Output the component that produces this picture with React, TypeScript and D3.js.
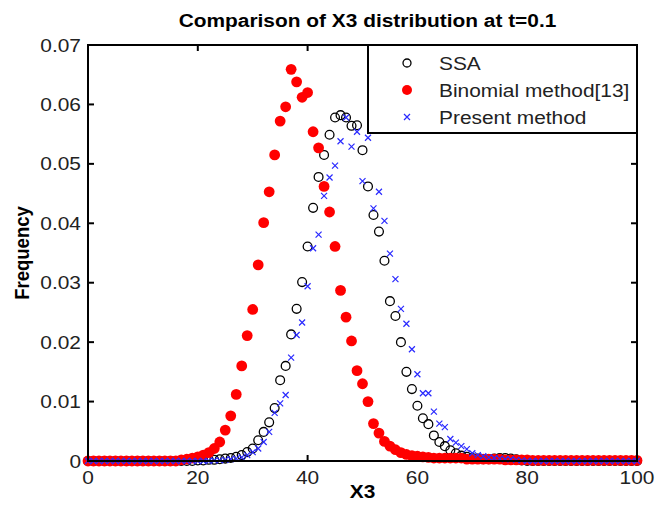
import React from "react";
import * as d3 from "d3";

const xs: number[] = d3.range(0, 101);

const ssa: number[] = [
  0, 0, 0, 0, 0, 0, 0, 0, 0, 0,
  0, 0, 0, 0, 0, 0, 0, 0, 0, 0,
  0.0001, 0.0001, 0.0002, 0.0002, 0.0003, 0.0004, 0.0005, 0.0007, 0.001, 0.0015,
  0.0021, 0.0035, 0.0049, 0.0065, 0.0089, 0.0136, 0.016, 0.0213, 0.0256, 0.0301,
  0.0361, 0.0426, 0.0478, 0.0515, 0.0549, 0.0578, 0.0582, 0.0578, 0.0564, 0.0565,
  0.0523, 0.0462, 0.0414, 0.0386, 0.0337, 0.0269, 0.0244, 0.02, 0.015, 0.0121,
  0.0093, 0.0072, 0.0062, 0.0043, 0.0032, 0.0025, 0.0018, 0.0013, 0.0009, 0.0007,
  0.0005, 0.0004, 0.0003, 0.0003, 0.0004, 0.0005, 0.0005, 0.0004, 0.0003, 0.0001,
  0, 0, 0, 0, 0, 0, 0, 0, 0, 0,
  0, 0, 0, 0, 0, 0, 0, 0, 0, 0,
  0,
];

const binomial: number[] = [
  0, 0, 0, 0, 0, 0, 0, 0, 0, 0,
  0, 0, 0, 0, 0, 0, 0, 0.0002, 0.0003, 0.0005,
  0.0007, 0.001, 0.0014, 0.0021, 0.0032, 0.0052, 0.0076, 0.0112, 0.016, 0.0211,
  0.0255, 0.033, 0.0401, 0.0453, 0.0515, 0.0572, 0.0596, 0.0659, 0.0638, 0.0612,
  0.062, 0.0554, 0.0527, 0.0462, 0.0419, 0.0361, 0.0287, 0.0242, 0.0202, 0.0152,
  0.013, 0.01, 0.0063, 0.0047, 0.0033, 0.0025, 0.0019, 0.0014, 0.0011, 0.0009,
  0.0008, 0.0007, 0.0006, 0.0005, 0.0005, 0.0005, 0.0005, 0.0005, 0.0005, 0.0003,
  0.0003, 0.0003, 0.0003, 0.0003, 0.0003, 0.0003, 0.0002, 0.0002, 0.0002, 0.0002,
  0.0002, 0.0001, 0.0001, 0.0001, 0.0001, 0.0001, 0.0001, 0.0001, 0.0001, 0.0001,
  0.0001, 0.0001, 0.0001, 0.0001, 0.0001, 0.0001, 0.0001, 0.0001, 0.0001, 0.0001,
  0.0001,
];

const present: number[] = [
  0, 0, 0, 0, 0, 0, 0, 0, 0, 0,
  0, 0, 0, 0, 0, 0, 0, 0, 0, 0,
  0, 0, 0, 0.0001, 0.0001, 0.0002, 0.0003, 0.0004, 0.0006, 0.001,
  0.0015, 0.0021, 0.0032, 0.0049, 0.0081, 0.0097, 0.0111, 0.0174, 0.0212, 0.0233,
  0.0294, 0.0358, 0.0381, 0.0446, 0.0477, 0.0497, 0.0538, 0.0578, 0.0529, 0.0554,
  0.0471, 0.0544, 0.0425, 0.0453, 0.0404, 0.0349, 0.0306, 0.0256, 0.0231, 0.0188,
  0.0146, 0.0114, 0.0114, 0.0083, 0.0063, 0.0057, 0.0037, 0.0031, 0.0025, 0.002,
  0.0013, 0.001, 0.0008, 0.0006, 0.0005, 0.0004, 0.0003, 0.0003, 0.0002, 0.0001,
  0, 0, 0, 0, 0, 0, 0, 0, 0, 0,
  0, 0, 0, 0, 0, 0, 0, 0, 0, 0,
  0,
];

const xTicks: number[] = [0, 20, 40, 60, 80, 100];
const xTickLabels: string[] = ["0", "20", "40", "60", "80", "100"];
const yTicks: number[] = [0, 0.01, 0.02, 0.03, 0.04, 0.05, 0.06, 0.07];
const yTickLabels: string[] = ["0", "0.01", "0.02", "0.03", "0.04", "0.05", "0.06", "0.07"];
const legendLabels: string[] = ["SSA", "Binomial method[13]", "Present method"];

const TITLE = "Comparison of X3 distribution at t=0.1";
const XLABEL = "X3";
const YLABEL = "Frequency";

const W = 655;
const H = 510;
const L = 88, R = 637, T = 45, B = 461;
const FONT = "'Liberation Sans', Arial, sans-serif";
const FS = 18.5;
const SX = 1.13;

export default function App() {
  const x = d3.scaleLinear().domain([0, 100]).range([L, R]);
  const y = d3.scaleLinear().domain([0, 0.07]).range([B, T]);
  const tick = 6;

  const cross = (cx: number, cy: number, s: number) =>
    `M${cx - s},${cy - s}L${cx + s},${cy + s}M${cx - s},${cy + s}L${cx + s},${cy - s}`;

  const legX = 368, legY = 45, legW = 269, legH = 88;
  const rowY = [63, 90, 117];
  const markX = 407;
  const textX = 439;

  return (
    <svg width={W} height={H} style={{ position: "absolute", left: 0, top: 0, background: "#fff" }}>
      <rect x={0} y={0} width={W} height={H} fill="#fff" />
      {/* title */}
      <text
        transform={`translate(${(L + R) / 2 + 5},27) scale(${SX},1)`}
        textAnchor="middle"
        fontFamily={FONT}
        fontSize={FS}
        fontWeight="bold"
      >
        {TITLE}
      </text>

      {/* ticks */}
      {xTicks.map((t, i) => (
        <g key={"xt" + i}>
          <line x1={x(t)} x2={x(t)} y1={B} y2={B - tick} stroke="#000" strokeWidth={2} />
          <line x1={x(t)} x2={x(t)} y1={T} y2={T + tick} stroke="#000" strokeWidth={2} />
          <text
            transform={`translate(${x(t)},484) scale(${SX},1)`}
            textAnchor="middle"
            fontFamily={FONT}
            fontSize={FS}
            fill="#222"
          >
            {xTickLabels[i]}
          </text>
        </g>
      ))}
      {yTicks.map((t, i) => (
        <g key={"yt" + i}>
          <line x1={L} x2={L + tick} y1={y(t)} y2={y(t)} stroke="#000" strokeWidth={2} />
          <line x1={R} x2={R - tick} y1={y(t)} y2={y(t)} stroke="#000" strokeWidth={2} />
          <text
            transform={`translate(81,${y(t) + 6.5}) scale(${SX},1)`}
            textAnchor="end"
            fontFamily={FONT}
            fontSize={FS}
            fill="#222"
          >
            {yTickLabels[i]}
          </text>
        </g>
      ))}

      {/* data */}
      <g>
        {xs.map((v, i) => (
          <circle key={"s" + i} cx={x(v)} cy={y(ssa[i])} r={4.4} fill="none" stroke="#000" strokeWidth={1.3} />
        ))}
      </g>
      <g>
        {xs.map((v, i) => (
          <circle key={"b" + i} cx={x(v)} cy={y(binomial[i])} r={5.4} fill="#ff0000" />
        ))}
      </g>
      <g>
        {xs.map((v, i) => (
          <path key={"p" + i} d={cross(x(v), y(present[i]), 3)} stroke="#2a2aff" strokeWidth={1.2} fill="none" />
        ))}
      </g>

      {/* frame */}
      <rect x={L} y={T} width={R - L} height={B - T} fill="none" stroke="#000" strokeWidth={2} />

      {/* axis labels */}
      <text
        transform={`translate(${(L + R) / 2},498) scale(${SX},1)`}
        textAnchor="middle"
        fontFamily={FONT}
        fontSize={FS}
        fontWeight="bold"
      >
        {XLABEL}
      </text>
      <text
        transform={`translate(29,${(T + B) / 2}) rotate(-90) scale(1,${SX})`}
        textAnchor="middle"
        fontFamily={FONT}
        fontSize={FS}
        fontWeight="bold"
      >
        {YLABEL}
      </text>

      {/* legend */}
      <rect x={legX} y={legY} width={legW} height={legH} fill="#fff" stroke="#000" strokeWidth={2} />
      <circle cx={markX} cy={rowY[0]} r={4} fill="none" stroke="#000" strokeWidth={1.3} />
      <circle cx={markX} cy={rowY[1]} r={5} fill="#ff0000" />
      <path d={cross(markX, rowY[2], 3)} stroke="#2a2aff" strokeWidth={1.2} fill="none" />
      {legendLabels.map((s, i) => (
        <text
          key={"l" + i}
          transform={`translate(${textX},${rowY[i] + 6.5}) scale(${SX},1)`}
          fontFamily={FONT}
          fontSize={FS}
          fill="#222"
        >
          {s}
        </text>
      ))}
    </svg>
  );
}
